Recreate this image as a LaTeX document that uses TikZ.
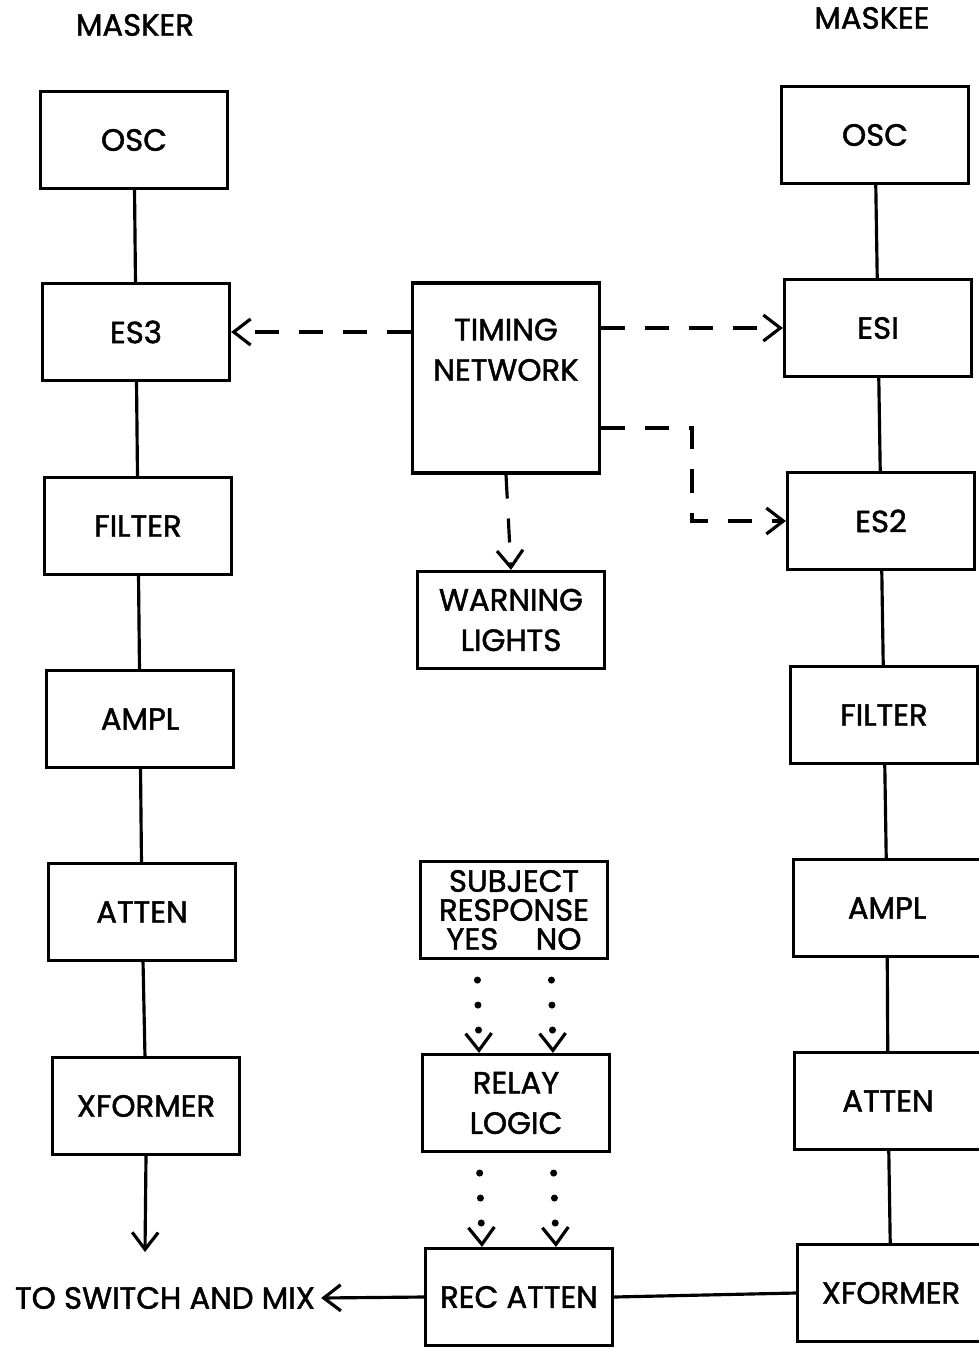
\documentclass[tikz,border=0pt]{standalone}
\usepackage{fontspec}
\setmainfont{Poppins}[BoldFont=Poppins, BoldFeatures={FakeBold=1.5}]
\usepackage{tikz}
\usetikzlibrary{arrows.meta,positioning,calc}
\tikzset{
  mkbox/.style={draw=black, line width=1.8pt, minimum width=3.74cm,
    minimum height=1.94cm, align=center, inner sep=3pt},
  mktext/.style={align=center},
  mkline/.style={line width=1.8pt, draw=black},
  mkarrow/.style={-{Straight Barb[length=3.4mm,width=5.2mm,line width=1.8pt]},
    line width=1.8pt, draw=black},
  mkdash/.style={mkarrow, dash pattern=on 0.48cm off 0.4cm},
  mkdot/.style={-{Straight Barb[length=3.4mm,width=5.2mm,line width=1.8pt]},
    line cap=round, line width=4pt, dash pattern=on 0pt off 0.5cm, dash phase=0.1cm}
}
\begin{document}
\begin{tikzpicture}[x=0.02cm,y=-0.02cm,
    every node/.style={font=\fontsize{17.5}{23}\selectfont\bfseries}]
  \useasboundingbox (0,0) rectangle (979,1349);
  % column titles
  \node (masker) at (135,25) {MASKER};
  \node (maskee) at (872,18) {MASKEE};
  % masker chain
  \foreach \nm/\x/\y/\lab in {osc/134/140/OSC, es/136/332/ES3, fil/138/526/FILTER,
      amp/140/719/AMPL, att/142/912/ATTEN, xf/146/1106/XFORMER} {
    \node[mkbox] (L\nm) at (\x,\y) {\lab};
  }
  % maskee chain
  \foreach \nm/\x/\y/\lab in {osc/875/135/OSC, esa/878/328/ESI, esb/881/521/ES2,
      fil/884/715/FILTER, amp/887/908/AMPL, att/888/1101/ATTEN, xf/891/1293/XFORMER} {
    \node[mkbox] (R\nm) at (\x,\y) {\lab};
  }
  \foreach \a/\b in {osc/es, es/fil, fil/amp, amp/att, att/xf} {
    \draw[mkline] (L\a) -- (L\b);
  }
  \foreach \a/\b in {osc/esa, esa/esb, esb/fil, fil/amp, amp/att, att/xf} {
    \draw[mkline] (R\a) -- (R\b);
  }
  % middle blocks
  \node[mkbox, minimum height=3.8cm] (timing) at (506,378) {};
  \node[mktext, below=0.62cm of timing.north] (timingtext) {TIMING\\NETWORK};
  \node[mkbox] (warn) at (511,620) {WARNING\\LIGHTS};
  \node[mkbox, font=\fontsize{17.5}{16.5}\selectfont\bfseries, inner sep=1pt] (subj) at (514,910)
    {SUBJECT\\RESPONSE\\YES\hspace{0.75cm}NO};
  \node[mkbox] (relay) at (516,1103) {RELAY\\LOGIC};
  \node[mkbox] (recatt) at (519,1297) {REC ATTEN};
  \node (tomix) at (165,1298) {TO SWITCH AND MIX};
  % timing links
  \coordinate (bend) at (692,428);
  \draw[mkdash] (Les.east -| timing.west) -- (Les.east);
  \draw[mkdash] (Resa.west -| timing.east) -- (Resa.west);
  \draw[mkdash] ([yshift=-1cm]timing.east) -| (bend) |- (Resb.west);
  \draw[mkdash] (timing.south) -- (warn.north);
  % response links
  \foreach \dx in {-0.74cm,0.74cm} {
    \draw[mkdot] ([xshift=\dx]subj.south) -- ([xshift=\dx]relay.north);
    \draw[mkdot] ([xshift=\dx]relay.south) -- ([xshift=\dx]recatt.north);
  }
  % outputs
  \coordinate (mixdown) at (145,1252);
  \draw[mkarrow] (Lxf.south) -- (mixdown);
  \draw[mkline] (Rxf.west) -- (recatt.east);
  \draw[mkarrow] (recatt.west) -- (tomix.east);
\end{tikzpicture}
\end{document}
